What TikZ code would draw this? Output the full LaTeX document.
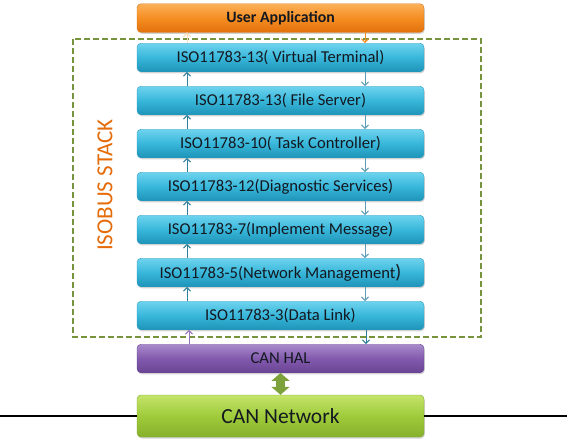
\documentclass[tikz,border=0pt]{standalone}
\usepackage{fontspec}
\setmainfont{Carlito}
\usetikzlibrary{shadows,arrows.meta}
\definecolor{blueT}{HTML}{6ED3EE}
\definecolor{blueM}{HTML}{38B7DA}
\definecolor{blueB}{HTML}{1E93B8}
\definecolor{blueE}{HTML}{2A9CC0}
\definecolor{orT}{HTML}{FCB059}
\definecolor{orM}{HTML}{F58E22}
\definecolor{orB}{HTML}{E2700C}
\definecolor{orE}{HTML}{D9700F}
\definecolor{puT}{HTML}{A98BCB}
\definecolor{puM}{HTML}{825AAE}
\definecolor{puB}{HTML}{6A4494}
\definecolor{puE}{HTML}{6A4494}
\definecolor{grT}{HTML}{C4E46A}
\definecolor{grM}{HTML}{9FCB3B}
\definecolor{grB}{HTML}{86B02C}
\definecolor{grE}{HTML}{82A82E}
\definecolor{dashC}{HTML}{77933C}
\definecolor{stackC}{HTML}{E46C0A}
\definecolor{upC}{HTML}{2E7F9C}
\definecolor{dnC}{HTML}{5E9DB5}
\definecolor{txt}{HTML}{141820}
\definecolor{dblC}{HTML}{7DA23C}
\begin{document}
\begin{tikzpicture}[x=1pt,y=-1pt,
  layer/.style={rounded corners=4pt, minimum width=287pt, minimum height=28.5pt,
    inner sep=0pt, font=\fontsize{16.6}{18}\selectfont, text=txt, line width=0.4pt,
    drop shadow={shadow xshift=0.8pt, shadow yshift=-1.5pt, opacity=0.35}},
  bluebox/.style={layer, top color=blueT, bottom color=blueB, middle color=blueM, draw=blueE},
  orbox/.style={layer, top color=orT, bottom color=orB, middle color=orM, draw=orE,
    font=\fontsize{15.8}{18}\selectfont\bfseries},
  pubox/.style={layer, top color=puT, bottom color=puB, middle color=puM, draw=puE},
  grbox/.style={layer, top color=grT, bottom color=grB, middle color=grM, draw=grE,
    minimum height=42pt, font=\fontsize{21.5}{24}\selectfont},
  uparr/.style={-{Straight Barb[length=3.5pt,width=7pt]}, line width=1pt, draw=upC},
  dnarr/.style={-{Straight Barb[length=3.5pt,width=7pt]}, line width=1pt, draw=dnC}
]
\useasboundingbox (0,0) rectangle (567,440);
% bus line
\coordinate (busL) at (0,416);
\coordinate (busR) at (567,416);
% dashed stack frame
\draw[dashC, line width=1.5pt, dash pattern=on 6pt off 3pt] (73,39) rectangle (481,337);
\node[rotate=90, text=stackC, font=\fontsize{23}{26}\selectfont] (stack) at (105,185) {ISOBUS STACK};
% layers
\node[orbox] (app) at (280.5,18) {User Application};
\node[bluebox] (vt) at (280.5,57.5) {ISO11783-13( Virtual Terminal)};
\node[bluebox] (fs) at (280.5,100.5) {ISO11783-13( File Server)};
\node[bluebox] (tc) at (280.5,143.5) {ISO11783-10( Task Controller)};
\node[bluebox] (ds) at (280.5,186.5) {ISO11783-12(Diagnostic Services)};
\node[bluebox] (im) at (280.5,229.5) {ISO11783-7(Implement Message)};
\node[bluebox] (nm) at (280.5,272.5) {ISO11783-5(Network Management{\fontsize{19.5}{18}\selectfont)}};
\node[bluebox] (dl) at (280.5,315.5) {ISO11783-3(Data Link)};
\node[pubox] (hal) at (280.5,358.5) {CAN HAL};
\node[grbox] (net) at (280.5,416) {CAN Network};
% bus
\draw[black, line width=2pt] (busL) -- (net.west);
\draw[black, line width=2pt] (net.east) -- (busR);
% inter-layer arrows
\draw[uparr, draw=orT!45] ([xshift=-93.5pt]vt.north) -- ([xshift=-93.5pt]app.south);
\draw[dnarr, draw=orM] ([xshift=84.5pt]app.south) -- ([xshift=84.5pt]vt.north);
\foreach \a/\b in {vt/fs, fs/tc, tc/ds, ds/im, im/nm, nm/dl} {
  \draw[uparr] ([xshift=-93.5pt]\b.north) -- ([xshift=-93.5pt]\a.south);
  \draw[dnarr] ([xshift=84.5pt]\a.south) -- ([xshift=84.5pt]\b.north);
}
\draw[uparr, draw=puM!85] ([xshift=-91.5pt]hal.north) -- ([xshift=-91.5pt]dl.south);
\draw[dnarr, draw=upC] ([xshift=85.5pt]dl.south) -- ([xshift=85.5pt]hal.north);
% double arrow
\draw[dblC, line width=9pt, {Triangle[length=8pt,width=18pt]}-{Triangle[length=8pt,width=18pt]}]
  (hal.south) -- (net.north);
\end{tikzpicture}
\end{document}
